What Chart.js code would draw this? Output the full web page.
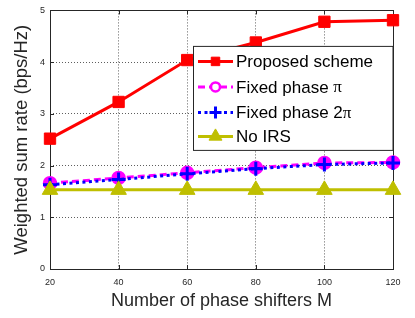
<!DOCTYPE html>
<html><head><meta charset="utf-8">
<script src="https://cdn.jsdelivr.net/npm/chart.js@4"></script>
<style>html,body{margin:0;padding:0;background:#fff}</style>
</head><body>
<canvas id="c" width="415" height="318"></canvas>
<script>
const xValues = [20, 40, 60, 80, 100, 120];
const proposed = [2.52, 3.23, 4.04, 4.38, 4.78, 4.81];
const fixedPi = [1.66, 1.76, 1.86, 1.96, 2.05, 2.06];
const fixed2Pi = [1.63, 1.73, 1.84, 1.94, 2.02, 2.05];
const noIRS = [1.53, 1.53, 1.53, 1.53, 1.53, 1.53];
const xTicks = [20, 40, 60, 80, 100, 120];
const yTicks = [0, 1, 2, 3, 4, 5];
const seriesNames = ["Proposed scheme", "Fixed phase \u03c0", "Fixed phase 2\u03c0", "No IRS"];
const xTitle = "Number of phase shifters M";
const yTitle = "Weighted sum rate (bps/Hz)";

const toPts = arr => xValues.map((x, i) => ({x: x, y: arr[i]}));
const SANS = "'Liberation Sans', Arial, Helvetica, sans-serif";

const styles = [
  {color: '#ff0000', dash: [], pointStyle: 'rect', radius: 8, fill: '#ff0000', pbw: 1, legendFill: '#ff0000', legendRadius: 6, legendBw: 1},
  {color: '#ff00ff', dash: [7, 4], pointStyle: 'circle', radius: 6, fill: '#ff00ff', pbw: 2.5, legendFill: '#ffffff', legendRadius: 4.5, legendBw: 2.5},
  {color: '#0000ff', dash: [3, 3.5], pointStyle: 'cross', radius: 7, fill: '#0000ff', pbw: 3, legendFill: '#0000ff', legendRadius: 6, legendBw: 3},
  {color: '#bfbf00', dash: [], pointStyle: 'triangle', radius: 9, fill: '#bfbf00', pbw: 1, legendFill: '#bfbf00', legendRadius: 7.5, legendBw: 1}
];
const seriesData = [proposed, fixedPi, fixed2Pi, noIRS];
const orders = [3, 2, 1, 0];

const datasets = seriesData.map((arr, i) => ({
  label: seriesNames[i],
  data: toPts(arr),
  borderColor: styles[i].color,
  backgroundColor: styles[i].fill,
  borderWidth: 3,
  borderDash: styles[i].dash,
  pointStyle: styles[i].pointStyle,
  pointRadius: styles[i].radius,
  pointHoverRadius: styles[i].radius,
  pointBackgroundColor: styles[i].fill,
  pointBorderColor: styles[i].color,
  pointBorderWidth: styles[i].pbw,
  tension: 0,
  clip: false,
  order: orders[i]
}));

const boxPlugin = {
  id: 'boxPlugin',
  beforeDatasetsDraw(chart) {
    const {ctx, chartArea: a, scales} = chart;
    ctx.save();
    ctx.strokeStyle = '#262626';
    ctx.lineWidth = 1;
    ctx.setLineDash([]);
    ctx.strokeRect(Math.round(a.left) + 0.5, Math.round(a.top) + 0.5,
      Math.round(a.right - a.left), Math.round(a.bottom - a.top));
    ctx.beginPath();
    xTicks.forEach(v => {
      const px = Math.round(scales.x.getPixelForValue(v)) + 0.5;
      ctx.moveTo(px, a.bottom); ctx.lineTo(px, a.bottom - 4);
      ctx.moveTo(px, a.top); ctx.lineTo(px, a.top + 4);
    });
    yTicks.forEach(v => {
      const py = Math.round(scales.y.getPixelForValue(v)) + 0.5;
      ctx.moveTo(a.left, py); ctx.lineTo(a.left + 4, py);
      ctx.moveTo(a.right, py); ctx.lineTo(a.right - 4, py);
    });
    ctx.stroke();
    ctx.restore();
  },
  afterDraw(chart) {
    const {ctx, chartArea: a} = chart;
    const bx = 193.5, by = a.top + 36, bw = a.right - 193.5, bh = 104;
    ctx.save();
    ctx.fillStyle = '#ffffff';
    ctx.fillRect(bx, by, bw, bh);
    ctx.strokeStyle = '#262626';
    ctx.lineWidth = 1;
    ctx.setLineDash([]);
    ctx.strokeRect(bx, by, bw, bh);
    const rows = [by + 15, by + 40.5, by + 66, by + 90];
    chart.data.datasets.forEach((ds, i) => {
      const y = rows[i];
      const st = styles[i];
      ctx.save();
      ctx.strokeStyle = st.color;
      ctx.lineWidth = 3;
      ctx.setLineDash(st.dash);
      ctx.beginPath();
      ctx.moveTo(198, y); ctx.lineTo(233, y);
      ctx.stroke();
      ctx.setLineDash([]);
      ctx.fillStyle = st.legendFill;
      ctx.strokeStyle = st.color;
      ctx.lineWidth = st.legendBw;
      Chart.helpers.drawPoint(ctx, {pointStyle: st.pointStyle, radius: st.legendRadius, rotation: 0, borderWidth: st.legendBw}, 215.5, y);
      ctx.restore();
      ctx.fillStyle = '#000000';
      ctx.textBaseline = 'middle';
      ctx.textAlign = 'left';
      const label = ds.label;
      let x = 236;
      const parts = [];
      const idx = label.indexOf('\u03c0');
      if (idx >= 0) {
        parts.push({t: label.slice(0, idx), f: "17px " + SANS});
        parts.push({t: '\u03c0', f: "17px 'Liberation Serif', 'Times New Roman', serif"});
        if (idx + 1 < label.length) parts.push({t: label.slice(idx + 1), f: "17px " + SANS});
      } else {
        parts.push({t: label, f: "17px " + SANS});
      }
      parts.forEach(p => {
        ctx.font = p.f;
        ctx.fillText(p.t, x, y + 1);
        x += ctx.measureText(p.t).width;
      });
    });
    ctx.restore();
  }
};

new Chart(document.getElementById('c'), {
  type: 'line',
  data: {datasets: datasets},
  options: {
    responsive: false,
    animation: false,
    devicePixelRatio: 1,
    layout: {padding: {left: 0, right: 22, top: 5, bottom: 0}},
    plugins: {legend: {display: false}, tooltip: {enabled: false}},
    scales: {
      x: {
        type: 'linear',
        min: 20, max: 120,
        afterBuildTicks: s => { s.ticks = xTicks.map(v => ({value: v})); },
        afterFit: s => { s.height = 49; },
        ticks: {color: '#262626', font: {family: SANS, size: 9}, padding: 8, maxRotation: 0},
        grid: {color: 'rgba(40,40,40,0.75)', lineWidth: 1, drawTicks: false},
        border: {display: false, dash: [1, 2]},
        title: {display: true, text: xTitle, color: '#262626', font: {family: SANS, size: 18}, padding: {top: 0, bottom: 6}}
      },
      y: {
        type: 'linear',
        min: 0, max: 5,
        afterBuildTicks: s => { s.ticks = yTicks.map(v => ({value: v})); },
        afterFit: s => { s.width = 50; },
        ticks: {color: '#262626', font: {family: SANS, size: 9}, padding: 5},
        grid: {color: 'rgba(40,40,40,0.75)', lineWidth: 1, drawTicks: false},
        border: {display: false, dash: [1, 2]},
        title: {display: true, text: yTitle, color: '#262626', font: {family: SANS, size: 18.5}, padding: {top: 11, bottom: 0}}
      }
    }
  },
  plugins: [boxPlugin]
});
</script>
</body></html>
